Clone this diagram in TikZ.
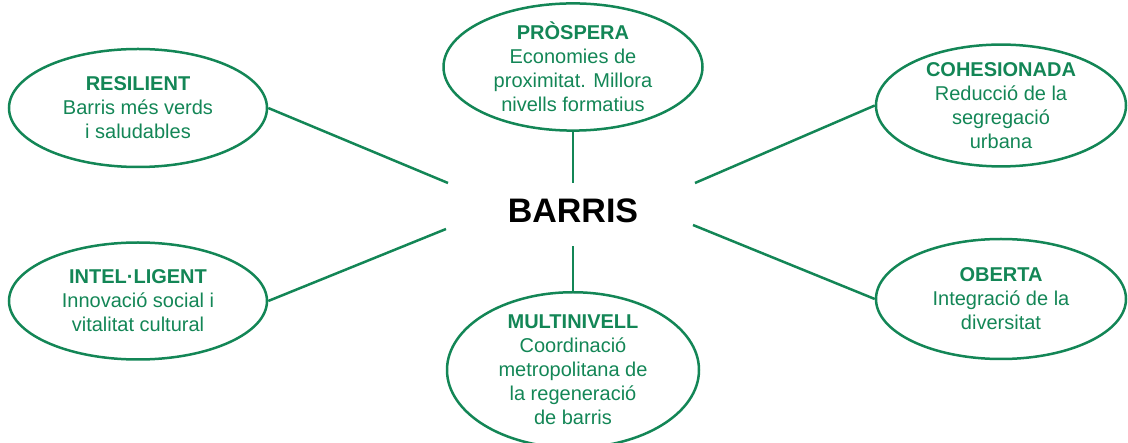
\documentclass[tikz,border=0pt]{standalone}
\usepackage{fontspec}
\setmainfont{Liberation Sans}
\usetikzlibrary{shapes.geometric}
\definecolor{grn}{HTML}{138656}
\begin{document}
\begin{tikzpicture}[x=1pt,y=-1pt,
  oval/.style={ellipse, draw=grn, line width=2.5pt, inner sep=0pt, align=center,
    text=grn, font=\fontsize{20}{24}\selectfont},
  link/.style={draw=grn, line width=2.5pt}]
\useasboundingbox (0,0) rectangle (1128,443);
\clip (0,0) rectangle (1128,443);
\node[oval, minimum width=258, minimum height=118] (res) at (138,108)
  {\textbf{RESILIENT}\\Barris més verds\\i saludables};
\node[oval, minimum width=259, minimum height=118] (pro) at (573,67)
  {\textbf{PRÒSPERA}\\Economies de\\proximitat. Millora\\nivells formatius};
\node[oval, minimum width=250, minimum height=118] (coh) at (1001,105.5)
  {\textbf{COHESIONADA}\\Reducció de la\\segregació\\urbana};
\node[oval, minimum width=258, minimum height=117] (int) at (138,301)
  {\textbf{INTEL·LIGENT}\\Innovació social i\\vitalitat cultural};
\node[oval, minimum width=250, minimum height=120] (obe) at (1001,299)
  {\textbf{OBERTA}\\Integració de la\\diversitat};
\node[oval, minimum width=252, minimum height=144] (mul) at (573,370)
  {\textbf{MULTINIVELL}\\Coordinació\\metropolitana de\\la regeneració\\de barris};
\node[font=\bfseries\fontsize{34}{40}\selectfont, inner sep=0pt] (bar) at (573,211) {BARRIS};
\coordinate (a1) at (448,183);
\coordinate (a2) at (446,229);
\coordinate (a3) at (573,183);
\coordinate (a4) at (573,246);
\coordinate (a5) at (695,183);
\coordinate (a6) at (693,225);
\draw[link] (res.east) -- (a1);
\draw[link] (int.east) -- (a2);
\draw[link] (pro.south) -- (a3);
\draw[link] (mul.north) -- (a4);
\draw[link] (coh.west) -- (a5);
\draw[link] (obe.west) -- (a6);
\end{tikzpicture}
\end{document}
